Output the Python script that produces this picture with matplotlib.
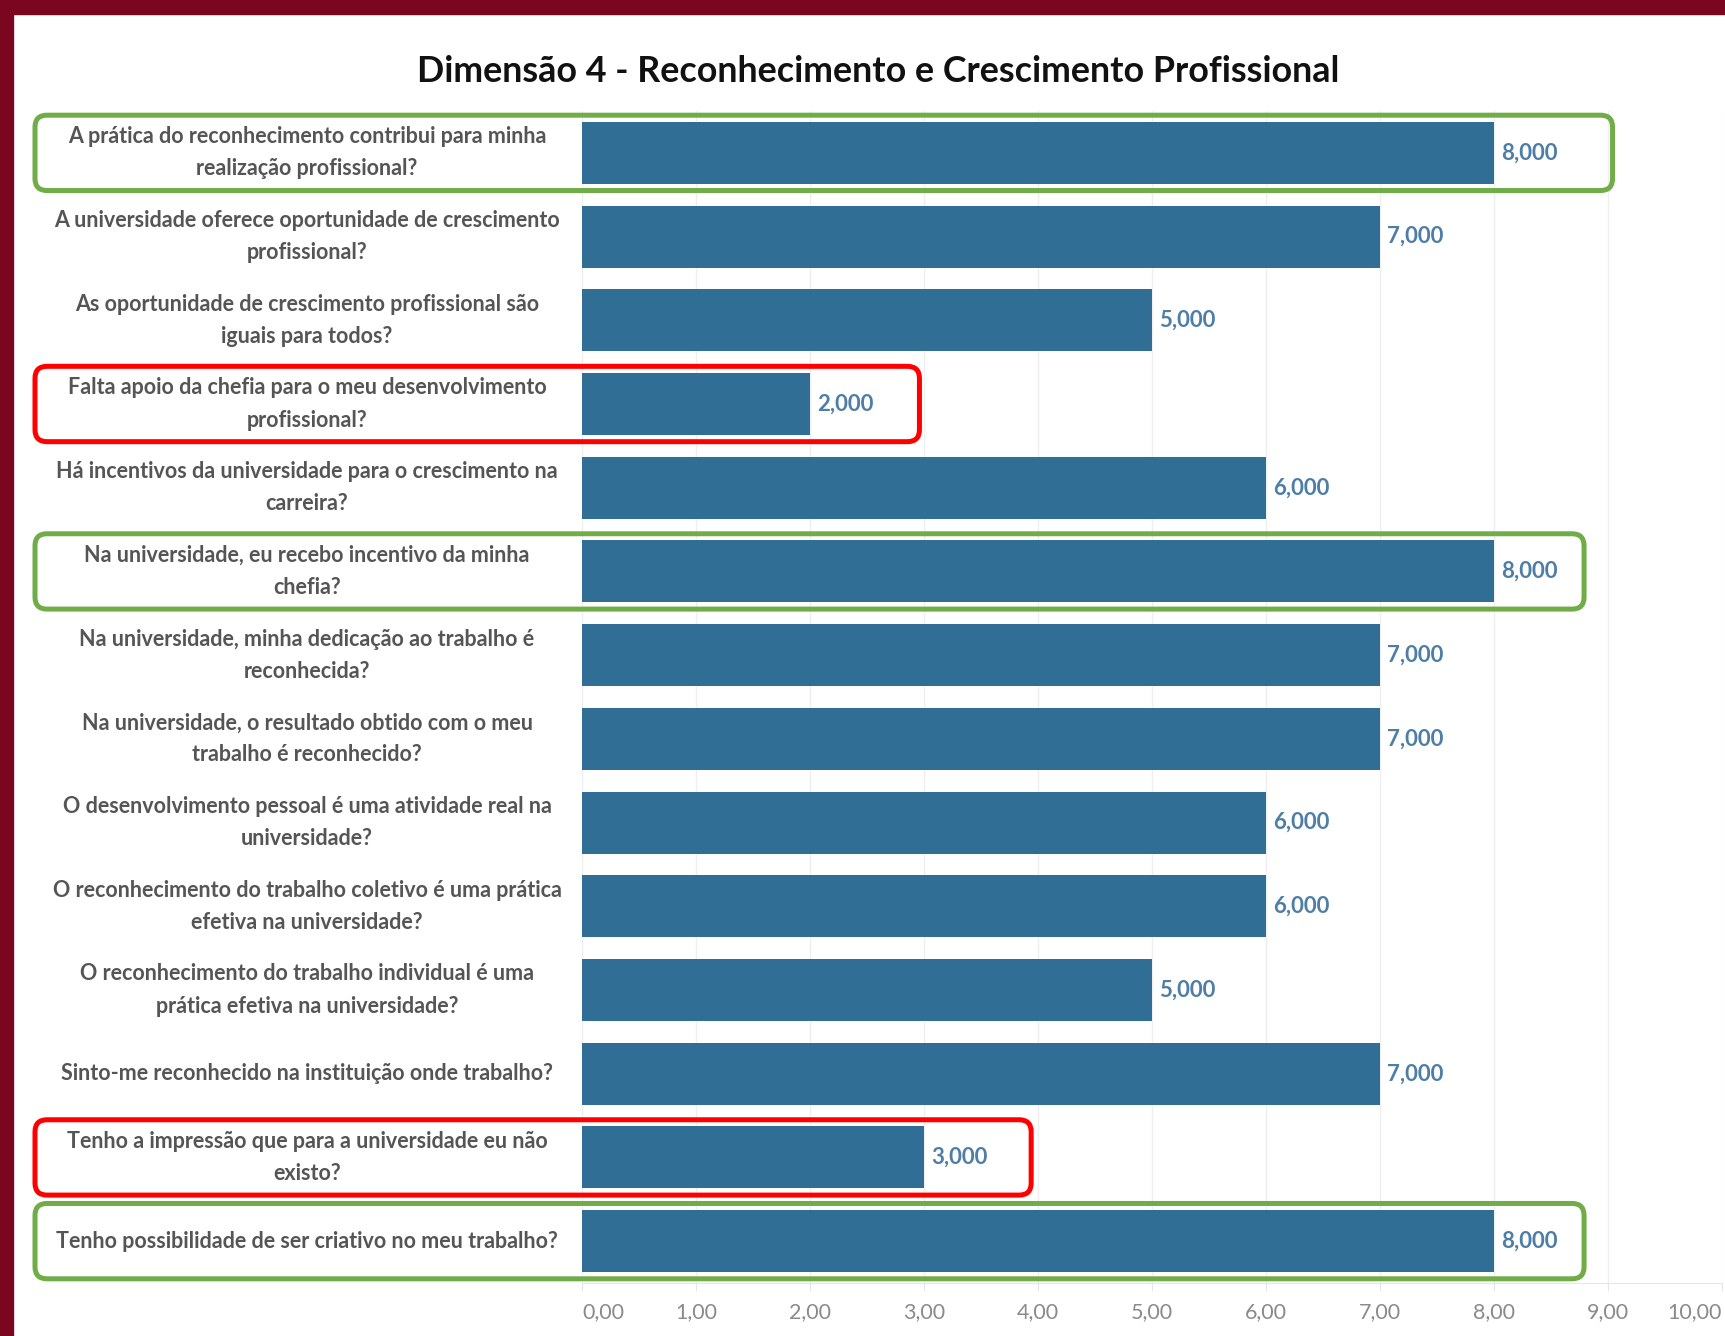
import matplotlib
matplotlib.use("Agg")
import matplotlib.pyplot as plt
from matplotlib.patches import FancyBboxPatch, Rectangle

# ---------------- data ----------------
questions = [
    "A prática do reconhecimento contribui para minha\nrealização profissional?",
    "A universidade oferece oportunidade de crescimento\nprofissional?",
    "As oportunidade de crescimento profissional são\niguais para todos?",
    "Falta apoio da chefia para o meu desenvolvimento\nprofissional?",
    "Há incentivos da universidade para o crescimento na\ncarreira?",
    "Na universidade, eu recebo incentivo da minha\nchefia?",
    "Na universidade, minha dedicação ao trabalho é\nreconhecida?",
    "Na universidade, o resultado obtido com o meu\ntrabalho é reconhecido?",
    "O desenvolvimento pessoal é uma atividade real na\nuniversidade?",
    "O reconhecimento do trabalho coletivo é uma prática\nefetiva na universidade?",
    "O reconhecimento do trabalho individual é uma\nprática efetiva na universidade?",
    "Sinto-me reconhecido na instituição onde trabalho?",
    "Tenho a impressão que para a universidade eu não\nexisto?",
    "Tenho possibilidade de ser criativo no meu trabalho?",
]
values = [8, 7, 5, 2, 6, 8, 7, 7, 6, 6, 5, 7, 3, 8]
x_ticks = [0, 1, 2, 3, 4, 5, 6, 7, 8, 9, 10]
x_tick_labels = ["0,00", "1,00", "2,00", "3,00", "4,00", "5,00",
                 "6,00", "7,00", "8,00", "9,00", "10,00"]
title = "Dimensão 4 - Reconhecimento e Crescimento Profissional"

# highlight boxes: (row index, colour, right edge in data units)
highlights = [
    (0, "#70ad47", 9.04),
    (3, "#ff0000", 2.96),
    (5, "#70ad47", 8.79),
    (12, "#ff0000", 3.94),
    (13, "#70ad47", 8.79),
]

# ---------------- style ----------------
BAR = "#306e96"
VAL = "#4e7ea6"
FONT = ["Lato", "DejaVu Sans"]
plt.rcParams["font.family"] = FONT

W, H = 1725, 1336
fig = plt.figure(figsize=(W / 100, H / 100), dpi=100)
fig.patch.set_facecolor("white")

# dark red frame (top and left)
fig.add_artist(Rectangle((0, 1 - 14 / H), 1, 14 / H, transform=fig.transFigure,
                         color="#7a0620", zorder=0))
fig.add_artist(Rectangle((0, 0), 13 / W, 1, transform=fig.transFigure,
                         color="#7a0620", zorder=0))

ax = fig.add_axes([582 / W, 1 - 1283 / H, 1140 / W, (1283 - 111) / H])
ypos = list(range(len(questions)))
bars = ax.barh(ypos, values, height=0.74, color=BAR, zorder=3)
ax.set_xlim(0, 10)
ax.set_ylim(len(questions) - 0.5, -0.5)

for b, v in zip(bars, values):
    ax.text(v + 0.06, b.get_y() + b.get_height() / 2, f"{v},000",
            va="center", ha="left", color=VAL, fontsize=16, fontweight="bold", zorder=4)

ax.set_yticks(ypos)
ax.set_yticklabels(questions, fontsize=15.5, color="#555555", fontweight="bold",
                   linespacing=1.65)
for lbl in ax.get_yticklabels():
    lbl.set_ha("center")
    lbl.set_va("center")
ax.tick_params(axis="y", length=0, pad=198)

ax.set_xticks(x_ticks)
ax.set_xticklabels(x_tick_labels, fontsize=15.5, color="#8a8a8a")
ax.tick_params(axis="x", length=6, color="#e6e6e6", pad=8)
xl = ax.get_xticklabels()
xl[0].set_ha("left")
xl[-1].set_ha("right")

ax.grid(axis="x", color="#efefef", linewidth=1, zorder=0)
ax.set_axisbelow(True)
for s in ["top", "right", "left"]:
    ax.spines[s].set_visible(False)
ax.spines["bottom"].set_color("#e6e6e6")

fig.text(878 / W, 1 - 72 / H, title, ha="center", va="center",
         fontsize=25.8, fontweight="bold", color="#111111")

# highlight boxes in pixel coordinates
fig.canvas.draw()
for idx, col, xr in highlights:
    (x1, y_top), = ax.transData.transform([(xr, idx - 0.45)])
    (_, y_bot), = ax.transData.transform([(xr, idx + 0.45)])
    x0 = 35
    p = FancyBboxPatch((x0, y_bot), x1 - x0, y_top - y_bot,
                       boxstyle="round,pad=0,rounding_size=12",
                       transform=None, fill=False, edgecolor=col,
                       linewidth=3.6, clip_on=False, zorder=10)
    fig.add_artist(p)

fig.savefig("out.png", dpi=100, facecolor="white")
